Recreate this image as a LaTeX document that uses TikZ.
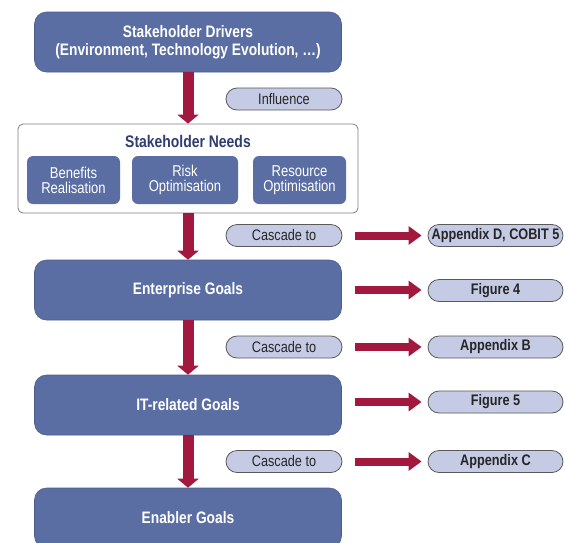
\documentclass[tikz,border=0pt]{standalone}
\usepackage{fontspec}
\setmainfont{Liberation Sans}[FakeStretch=0.83]
\usepackage{tikz}
\usetikzlibrary{shapes, arrows.meta, positioning}
\definecolor{goalblue}{HTML}{5A6EA3}
\definecolor{pillblue}{HTML}{C5CBE5}
\definecolor{cascred}{HTML}{A3183F}
\definecolor{needsink}{HTML}{2F3E70}
\tikzstyle{gnode} = [rectangle, rounded corners=12pt, fill=goalblue, draw=goalblue!85!black, line width=0.6pt, text=white, font=\fontsize{16.6}{18}\selectfont\bfseries, align=center, minimum width=307pt, minimum height=60pt]
\tikzstyle{snode} = [rectangle, rounded corners=6pt, fill=goalblue, text=white, font=\fontsize{15.7}{15}\selectfont, align=center, minimum height=48pt]
\tikzstyle{pnode} = [rectangle, rounded corners=11pt, fill=pillblue, draw=black!65, line width=0.8pt, text=black!85, font=\fontsize{15.3}{15}\selectfont, minimum height=22pt]
\tikzstyle{bpnode} = [pnode, minimum width=135pt, font=\fontsize{15.3}{15}\selectfont\bfseries]
\tikzstyle{down} = [draw=cascred, line width=11pt, -{Triangle[width=21pt,length=9pt]}]
\tikzstyle{across} = [draw=cascred, line width=8pt, -{Triangle[width=18pt,length=13pt]}, shorten >=6pt]

\begin{document}
\begin{tikzpicture}[x=1pt, y=-1pt]
			\useasboundingbox (0,0) rectangle (565,542);
			\node [gnode] (drivers) at (188, 42) {Stakeholder Drivers\\(Environment, Technology Evolution, \dots)};
			\node [pnode, minimum width=116pt] (influence) at (284, 99) {Influence};
			\node [rectangle, rounded corners=5pt, fill=white, draw=black!50, line width=0.8pt, minimum width=340pt, minimum height=89pt] (needs) at (188, 168.5) {};
			\node [text=needsink, font=\fontsize{16.8}{16}\selectfont\bfseries] (needstitle) at (188, 141) {Stakeholder Needs};
			\node [snode, minimum width=93pt] (benefits) at (73.5, 180) {Benefits\\Realisation};
			\node [snode, minimum width=106pt] (risk) at (185, 180) {Risk\\Optimisation};
			\node [snode, minimum width=93pt] (resource) at (299.5, 180) {Resource\\Optimisation};

			\node [pnode, minimum width=116pt] (cascadeA) at (284, 235.5) {Cascade to};
			\node [bpnode] (appD) at (495.5, 235.5) {Appendix D, COBIT 5};
			\node [gnode] (enterprise) at (188, 290) {Enterprise Goals};
			\node [bpnode] (fig4) at (495.5, 290.5) {Figure 4};
			\node [pnode, minimum width=116pt] (cascadeB) at (284, 347) {Cascade to};
			\node [bpnode] (appB) at (495.5, 347) {Appendix B};
			\node [gnode] (itgoals) at (188, 405) {IT-related Goals};
			\node [bpnode] (fig5) at (495.5, 402) {Figure 5};
			\node [pnode, minimum width=116pt] (cascadeC) at (284, 461.5) {Cascade to};
			\node [bpnode] (appC) at (495.5, 461.5) {Appendix C};
			\node [gnode] (enabler) at (188, 518) {Enabler Goals};

			\path [down] (drivers) -- (needs);
			\path [down] (needs) -- (enterprise);
			\path [down] (enterprise) -- (itgoals);
			\path [down] (itgoals) -- (enabler);
			\path [across] ([xshift=13pt]cascadeA.east) -- (appD.west);
			\path [across] ([xshift=13pt]enterprise.east) -- (enterprise.east -| fig4.west);
			\path [across] ([xshift=13pt]cascadeB.east) -- (appB.west);
			\path [across] ([xshift=13pt]itgoals.east |- fig5.west) -- (fig5.west);
			\path [across] ([xshift=13pt]cascadeC.east) -- (appC.west);
		\end{tikzpicture}
\end{document}
